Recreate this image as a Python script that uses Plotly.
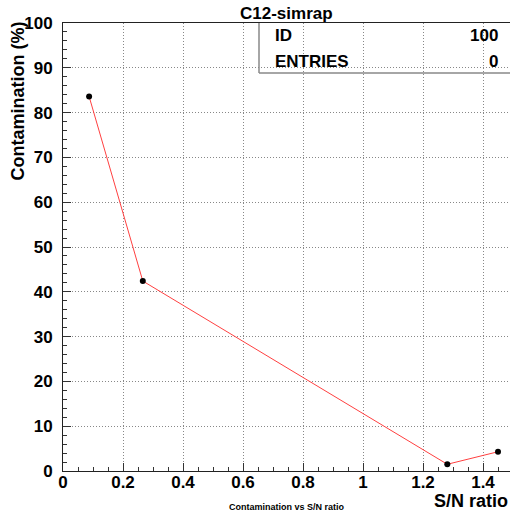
import plotly.graph_objects as go

sn_ratio = [0.087, 0.266, 1.281, 1.45]
contamination = [83.6, 42.4, 1.5, 4.3]
x_ticks = [0, 0.2, 0.4, 0.6, 0.8, 1, 1.2, 1.4]
x_tick_labels = ["0", "0.2", "0.4", "0.6", "0.8", "1", "1.2", "1.4"]
y_ticks = [0, 10, 20, 30, 40, 50, 60, 70, 80, 90, 100]
stats_labels = ["ID", "ENTRIES"]
stats_values = ["100", "0"]

W, H = 510, 512
L, R, T, B = 63, 0, 23, 41
PW, PH = W - L - R, H - T - B

def px(x):
    return (x - L) / PW

def py(y):
    return (H - B - y) / PH

FONT = "Liberation Sans"
fig = go.Figure()
fig.add_trace(go.Scatter(
    x=sn_ratio, y=contamination, mode="lines+markers",
    line=dict(color="#ff4040", width=1),
    marker=dict(color="black", size=6),
    showlegend=False,
))

axis_common = dict(
    showline=True, linecolor="#222", linewidth=1, mirror=True,
    showgrid=True, gridcolor="#888", griddash="1px,2px", gridwidth=1,
    ticks="inside", ticklen=8, tickcolor="#333", tickwidth=1,
    tickfont=dict(family=FONT, size=17, color="black", weight="bold"),
    zeroline=False,
)

fig.update_xaxes(
    range=[0, 1.49], tickvals=x_ticks, ticktext=x_tick_labels,
    minor=dict(ticks="inside", ticklen=4, dtick=0.05, tick0=0, tickcolor="#333", showgrid=False),
    ticklabelstandoff=-4,
    **axis_common,
)
fig.update_yaxes(
    range=[0, 100], tickvals=y_ticks,
    minor=dict(ticks="inside", ticklen=4, dtick=2, tick0=0, tickcolor="#333", showgrid=False),
    ticklabelstandoff=6,
    **axis_common,
)

annotations = [
    dict(text="C12-simrap", x=0.5, y=py(14), xref="paper", yref="paper",
         xanchor="center", yanchor="middle", showarrow=False,
         font=dict(family=FONT, size=17, color="black", weight="bold")),
    dict(text="Contamination (%)", x=px(18), y=py(20), xref="paper", yref="paper",
         xanchor="center", yanchor="top", textangle=-90, showarrow=False,
         font=dict(family=FONT, size=18, color="black", weight="bold")),
    dict(text="S/N ratio", x=1.0, y=py(501), xref="paper", yref="paper",
         xanchor="right", yanchor="middle", showarrow=False,
         font=dict(family=FONT, size=18, color="black", weight="bold")),
    dict(text="Contamination vs S/N ratio", x=px(287), y=py(507), xref="paper", yref="paper",
         xanchor="center", yanchor="middle", showarrow=False,
         font=dict(family=FONT, size=9, color="black", weight="bold")),
]
row_y = [35, 61]
for lab, val, yy in zip(stats_labels, stats_values, row_y):
    annotations.append(dict(text=lab, x=px(273), y=py(yy), xref="paper", yref="paper",
                            xanchor="left", yanchor="middle", showarrow=False,
                            font=dict(family=FONT, size=17, color="black", weight="bold")))
    annotations.append(dict(text=val, x=px(500), y=py(yy), xref="paper", yref="paper",
                            xanchor="right", yanchor="middle", showarrow=False,
                            font=dict(family=FONT, size=17, color="black", weight="bold")))

shapes = [
    dict(type="line", xref="paper", yref="paper", x0=px(259), x1=px(259), y0=py(73), y1=1,
         line=dict(color="#888", width=1.5)),
    dict(type="line", xref="paper", yref="paper", x0=px(259), x1=1.0, y0=py(73), y1=py(73),
         line=dict(color="#888", width=1.5)),
]

fig.update_layout(
    width=W, height=H, margin=dict(l=L, r=R, t=T, b=B),
    paper_bgcolor="white", plot_bgcolor="white",
    annotations=annotations, shapes=shapes,
    font=dict(family=FONT),
)
fig.write_html("out.html")
